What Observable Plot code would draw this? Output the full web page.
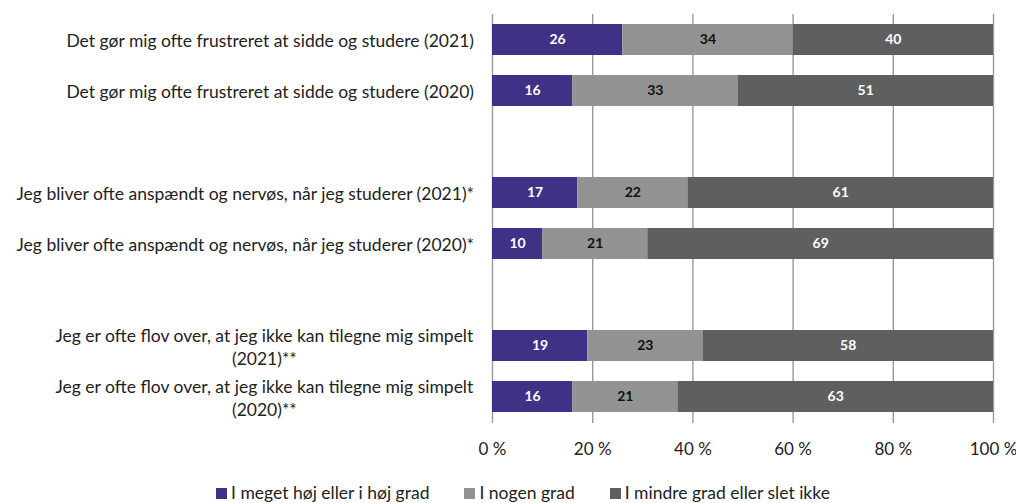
<!DOCTYPE html>
<html>
<head>
<meta charset="utf-8">
<script src="https://cdn.jsdelivr.net/npm/d3@7"></script>
<script src="https://cdn.jsdelivr.net/npm/@observablehq/plot@0.6"></script>
<style>
  html, body { margin: 0; padding: 0; background: #fff; }
  body { width: 1016px; font-family: "Lato", sans-serif; }
  #legend { display: flex; justify-content: center; gap: 35px; font-size: 17.5px; color: #222; margin-top: 13px; padding-left: 30px; line-height: 20px; }
  #legend .item { display: flex; align-items: center; }
  #legend .sw { width: 11px; height: 11px; margin-right: 4px; display: inline-block; }
</style>
</head>
<body>
<div id="chart"></div>
<div id="legend"></div>
<script>
const rowKeys = ["r1", "r2", "gap1", "r3", "r4", "gap2", "r5", "r6"];
const rowLabels = [
  "Det gør mig ofte frustreret at sidde og studere (2021)",
  "Det gør mig ofte frustreret at sidde og studere (2020)",
  "",
  "Jeg bliver ofte anspændt og nervøs, når jeg studerer (2021)*",
  "Jeg bliver ofte anspændt og nervøs, når jeg studerer (2020)*",
  "",
  "Jeg er ofte flov over, at jeg ikke kan tilegne mig simpelt\n(2021)**",
  "Jeg er ofte flov over, at jeg ikke kan tilegne mig simpelt\n(2020)**"
];
const dataRows = ["r1", "r2", "r3", "r4", "r5", "r6"];
const series = ["I meget høj eller i høj grad", "I nogen grad", "I mindre grad eller slet ikke"];
const seriesColors = ["#3f3185", "#939393", "#5f5f5f"];
const highValues = [26, 16, 17, 10, 19, 16];
const someValues = [34, 33, 22, 21, 23, 21];
const lowValues = [40, 51, 61, 69, 58, 63];
const xTicks = [0, 20, 40, 60, 80, 100];

const labelRows = rowKeys.map((k, i) => ({key: k, label: rowLabels[i]})).filter(d => d.label);
const data = [];
dataRows.forEach((r, i) => {
  data.push({row: r, series: series[0], value: highValues[i]});
  data.push({row: r, series: series[1], value: someValues[i]});
  data.push({row: r, series: series[2], value: lowValues[i]});
});

const plot = Plot.plot({
  width: 1016,
  height: 470,
  marginLeft: 492,
  marginRight: 23,
  marginTop: 14,
  marginBottom: 47,
  style: {fontFamily: "Lato, sans-serif", fontSize: "17.5px", color: "#222"},
  x: {domain: [0, 100], axis: null},
  y: {domain: rowKeys, paddingInner: 0.39, paddingOuter: 0.195, axis: null},
  color: {domain: series, range: seriesColors},
  marks: [
    Plot.gridX(xTicks, {stroke: "#999", strokeOpacity: 1, strokeWidth: 1.4}),
    Plot.barX(data, Plot.stackX({x: "value", y: "row", fill: "series", order: series})),
    Plot.text(data, Plot.stackX({x: "value", y: "row", z: "series", order: series,
      text: d => d.series === series[1] ? null : d.value, fill: "white", fontWeight: "bold", fontSize: 14})),
    Plot.text(data, Plot.stackX({x: "value", y: "row", z: "series", order: series,
      text: d => d.series === series[1] ? d.value : null, fill: "#111", fontWeight: "bold", fontSize: 14})),
    Plot.text(xTicks, {x: d => d, text: d => d + " %", frameAnchor: "bottom", lineAnchor: "middle", dy: 26,
      fontSize: 17, fill: "#222"}),
    Plot.text(labelRows, {y: "key", text: "label", frameAnchor: "left", textAnchor: "middle", lineAnchor: "middle",
      dx: -250, lineHeight: 1.3, fontSize: 17.5, fill: "#222"})
  ]
});
document.getElementById("chart").appendChild(plot);

// right-align each label block at x=474, keeping lines centered within it
const svgRect = plot.getBoundingClientRect();
plot.querySelectorAll("text").forEach(t => {
  const s = t.textContent;
  if (!(s.startsWith("Det ") || s.startsWith("Jeg "))) return;
  const r = t.getBoundingClientRect();
  if (r.width === 0) return;
  const dx = 474 - (r.right - svgRect.left);
  t.setAttribute("transform", (t.getAttribute("transform") || "") + ` translate(${dx},0)`);
});

const legend = document.getElementById("legend");
series.forEach((s, i) => {
  const item = document.createElement("div");
  item.className = "item";
  const sw = document.createElement("span");
  sw.className = "sw";
  sw.style.background = seriesColors[i];
  item.appendChild(sw);
  item.appendChild(document.createTextNode(s));
  legend.appendChild(item);
});
</script>
</body>
</html>
